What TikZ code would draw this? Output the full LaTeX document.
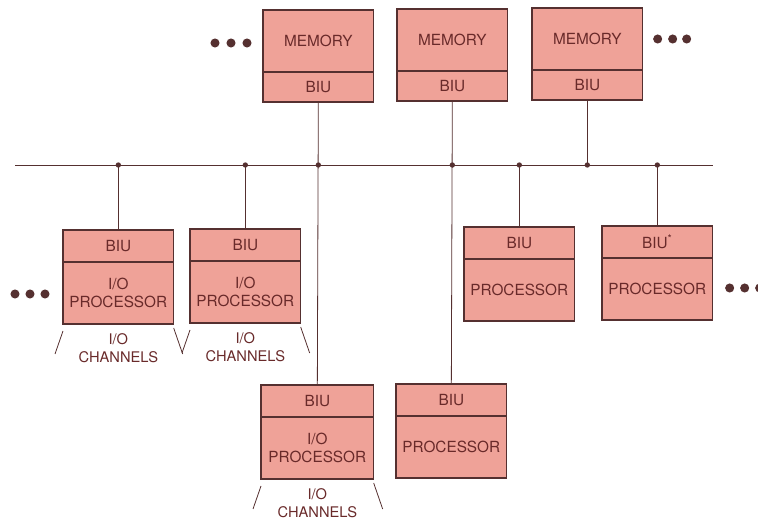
\documentclass[tikz,border=0pt]{standalone}
\usepackage{fontspec}
\setmainfont{TeX Gyre Heros}
\usetikzlibrary{
    positioning,
    calc
}
\definecolor{unitfill}{RGB}{239,162,152}
\definecolor{unitline}{RGB}{85,48,48}
\definecolor{unittext}{RGB}{105,42,42}

\begin{document}
\begin{tikzpicture}[
    x=0.75pt,
    y=-0.75pt,
    unitbox/.style={
        draw=unitline,
        line width=0.9pt,
        fill=unitfill,
        text=unittext,
        align=center,
        font=\fontsize{11.5}{14}\selectfont,
        minimum width=83pt,
        inner sep=0pt,
        outer sep=0pt
    },
    biupart/.style={
        unitbox,
        minimum height=24pt
    },
    mainpart/.style={
        unitbox,
        minimum height=46.5pt
    },
    wire/.style={
        draw=unitline,
        line width=0.6pt
    },
    chanlabel/.style={
        text=unittext,
        align=center,
        font=\fontsize{11}{13.5}\selectfont,
        inner sep=0pt
    }
]
\useasboundingbox (0,0) rectangle (758,520);

% memories on top
\node[mainpart, anchor=north west] (mem1) at (263,10) {MEMORY};
\node[biupart, minimum height=22.5pt, below=0pt of mem1] (mem1biu) {BIU};
\node[mainpart, anchor=north west] (mem2) at (397,9) {MEMORY};
\node[biupart, minimum height=22.5pt, below=0pt of mem2] (mem2biu) {BIU};
\node[mainpart, anchor=north west] (mem3) at (532,8) {MEMORY};
\node[biupart, minimum height=22.5pt, below=0pt of mem3] (mem3biu) {BIU};

% units below the bus
\node[biupart, anchor=north west] (iop1biu) at (63,230) {BIU};
\node[mainpart, below=0pt of iop1biu] (iop1) {I/O\\PROCESSOR};
\node[biupart, anchor=north west] (iop2biu) at (190,229) {BIU};
\node[mainpart, below=0pt of iop2biu] (iop2) {I/O\\PROCESSOR};
\node[biupart, anchor=north west] (proc1biu) at (464,227) {BIU};
\node[mainpart, below=0pt of proc1biu] (proc1) {PROCESSOR};
\node[biupart, anchor=north west] (proc2biu) at (602,226) {BIU\textsuperscript{*}};
\node[mainpart, below=0pt of proc2biu] (proc2) {PROCESSOR};
\node[biupart, anchor=north west, minimum width=84.5pt] (iop3biu) at (261,385) {BIU};
\node[mainpart, minimum width=84.5pt, below=0pt of iop3biu] (iop3) {I/O\\PROCESSOR};
\node[biupart, anchor=north west] (proc3biu) at (396,384) {BIU};
\node[mainpart, below=0pt of proc3biu] (proc3) {PROCESSOR};

% the bus
\coordinate (busW) at (15,165);
\coordinate (busE) at (713,165);
\draw[wire] (busW) -- (busE);

\draw[wire] (mem1biu.south) -- (iop3biu.north);
\draw[wire] (mem2biu.south) -- (proc3biu.north);
\draw[wire] (mem3biu.south) -- (mem3biu.south |- busW);
\foreach \unit in {iop1biu,iop2biu,proc1biu,proc2biu}
    \draw[wire] (\unit.north) -- (\unit.north |- busW);
\foreach \unit in {iop1biu,iop2biu,mem1biu,mem2biu,proc1biu,mem3biu,proc2biu}
    \fill[unitline] (\unit.center |- busW) circle (2pt);

% i/o channels
\foreach \iop in {iop1,iop2,iop3} {
    \draw[wire] ($(\iop.south west)+(0,7)$) -- ++(-8,23);
    \draw[wire] ($(\iop.south east)+(0,4)$) -- ++(9,26);
    \node[chanlabel, below=7pt of \iop] (\iop ch) {I/O\\CHANNELS};
}

% more units
\foreach \dx in {-48,-32,-16}
    \fill[unitline] ($(mem1.west)+(\dx,2)$) circle (3.4pt);
\foreach \dx in {15,30,44}
    \fill[unitline] ($(mem3.east)+(\dx,0)$) circle (3.4pt);
\foreach \dx in {-48,-33,-18}
    \fill[unitline] ($(iop1.west)+(\dx,1)$) circle (3.4pt);
\foreach \dx in {17,32,47}
    \fill[unitline] ($(proc2.east)+(\dx,-1)$) circle (3.4pt);

\end{tikzpicture}
\end{document}
